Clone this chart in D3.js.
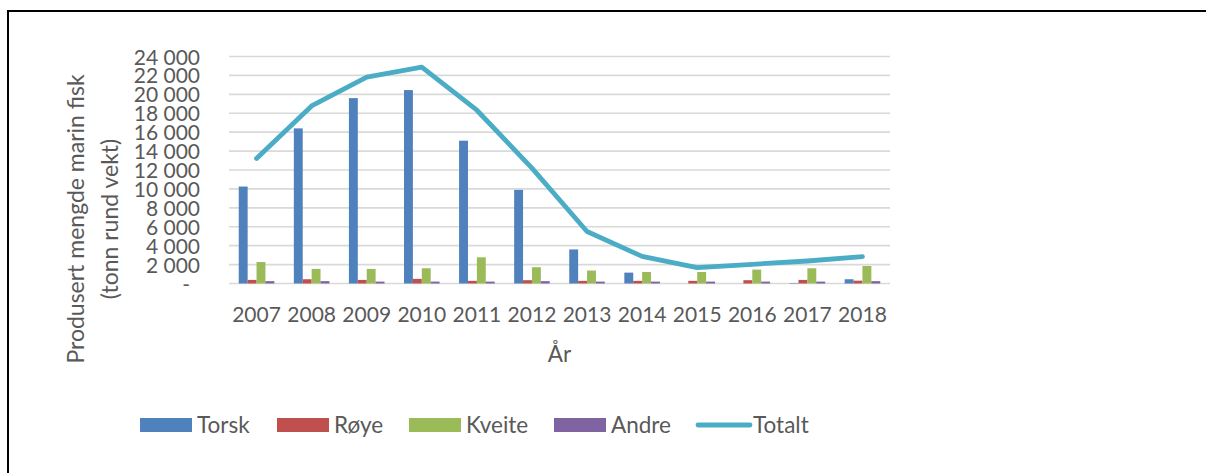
<!DOCTYPE html>
<html>
<head>
<meta charset="utf-8">
<script src="https://cdn.jsdelivr.net/npm/d3@7"></script>
<style>
  body { margin: 0; background: #fff; }
  svg text { font-family: Lato, "Open Sans", sans-serif; fill: #595959; }
</style>
</head>
<body>
<svg id="graph" width="1206" height="473"></svg>
<script>
    var w = 1206;
    var h = 473;

    // data (tonn)
    var years = ["2007","2008","2009","2010","2011","2012","2013","2014","2015","2016","2017","2018"];
    var torsk  = [10250, 16400, 19600, 20450, 15100, 9900, 3600, 1150, 0, 0, 50, 450];
    var roye   = [380, 450, 380, 490, 280, 350, 280, 280, 280, 350, 380, 300];
    var kveite = [2270, 1540, 1540, 1610, 2770, 1720, 1370, 1220, 1220, 1470, 1610, 1850];
    var andre  = [250, 250, 200, 200, 200, 250, 200, 200, 200, 200, 200, 250];
    var totalt = [13220, 18770, 21820, 22870, 18320, 12200, 5500, 2870, 1680, 2030, 2380, 2840];
    var yTicks = [0, 2000, 4000, 6000, 8000, 10000, 12000, 14000, 16000, 18000, 20000, 22000, 24000];

    var seriesNames = ["Torsk", "Røye", "Kveite", "Andre"];
    var seriesValues = [torsk, roye, kveite, andre];
    var colorKey = {"Torsk": "#4F81BD",
                    "Røye": "#C0504D",
                    "Kveite": "#9BBB59",
                    "Andre": "#8064A2",
                    "Totalt": "#4BACC6"};

    var plot = {left: 229, right: 890, top: 56.5, bottom: 283.5};

    var svg = d3.select("#graph");

    // frame of the original figure
    svg.append("rect")
        .attr("x", 8).attr("y", 11)
        .attr("width", w + 20).attr("height", h + 20)
        .style("fill", "none")
        .style("stroke", "#000")
        .style("stroke-width", 2);

    var x0 = d3.scaleBand().domain(years).range([plot.left, plot.right]);
    var x1 = d3.scaleBand().domain(seriesNames).range([0, x0.bandwidth()]).paddingOuter(1.095);
    var y = d3.scaleLinear().domain([0, 24000]).range([plot.bottom, plot.top]);

    // gridlines
    svg.append("g").selectAll("line")
        .data(yTicks)
        .enter()
        .append("line")
        .attr("x1", plot.left).attr("x2", plot.right)
        .attr("y1", function(d){ return y(d); })
        .attr("y2", function(d){ return y(d); })
        .style("stroke", "#D9D9D9")
        .style("stroke-width", 1.6);

    // y axis labels
    var yAxis = d3.axisLeft(y)
        .tickValues(yTicks)
        .tickSize(0)
        .tickPadding(0)
        .tickFormat(function(d){
            if (d == 0) return "-";
            return d3.format(",")(d).replace(/,/g, " ");
        });
    var gy = svg.append("g")
        .attr("transform", "translate(200,0)")
        .call(yAxis);
    gy.select(".domain").remove();
    gy.selectAll("text")
        .style("font-size", "21px")
        .style("fill", "#595959")
        .style("font-family", "Lato, 'Open Sans', sans-serif")
        .attr("dy", "0.36em")
        .attr("dx", function(d){ return d == 0 ? -10 : 0; });

    // x axis labels
    var xAxis = d3.axisBottom(x0).tickSize(0).tickPadding(0);
    var gx = svg.append("g")
        .attr("transform", "translate(0,307)")
        .call(xAxis);
    gx.select(".domain").remove();
    gx.selectAll("text")
        .style("font-size", "21px")
        .style("fill", "#595959")
        .style("font-family", "Lato, 'Open Sans', sans-serif")
        .attr("dy", "0.72em");

    // bars
    seriesNames.forEach(function(name, si){
        svg.append("g").selectAll("rect")
            .data(seriesValues[si])
            .enter()
            .append("rect")
            .attr("x", function(d, i){ return x0(years[i]) + x1(name); })
            .attr("width", x1.bandwidth())
            .attr("y", function(d){ return y(d); })
            .attr("height", function(d){ return plot.bottom - y(d); })
            .style("fill", colorKey[name]);
    });

    // total line
    var line = d3.line()
        .x(function(d, i){ return x0(years[i]) + x0.bandwidth()/2; })
        .y(function(d){ return y(d); });
    svg.append("path")
        .datum(totalt)
        .attr("d", line)
        .style("fill", "none")
        .style("stroke", colorKey["Totalt"])
        .style("stroke-width", 4.8)
        .style("stroke-linecap", "round")
        .style("stroke-linejoin", "round");

    // axis titles
    svg.append("text")
        .attr("transform", "translate(76,219) rotate(-90)")
        .attr("text-anchor", "middle")
        .attr("dy", "0.36em")
        .style("font-size", "23px")
        .text("Produsert mengde marin fisk");
    svg.append("text")
        .attr("transform", "translate(110,219) rotate(-90)")
        .attr("text-anchor", "middle")
        .attr("dy", "0.36em")
        .style("font-size", "23px")
        .text("(tonn rund vekt)");
    svg.append("text")
        .attr("x", (plot.left + plot.right)/2)
        .attr("y", 361.5)
        .attr("text-anchor", "middle")
        .style("font-size", "22.5px")
        .text("År");

    // legend
    var legendX = [140, 277, 409, 554, 696];
    var legendNames = ["Torsk", "Røye", "Kveite", "Andre", "Totalt"];
    var lg = svg.append("g");
    legendNames.forEach(function(name, i){
        if (name == "Totalt") {
            lg.append("line")
                .attr("x1", legendX[i] + 2).attr("x2", legendX[i] + 54)
                .attr("y1", 425).attr("y2", 425)
                .style("stroke", colorKey[name])
                .style("stroke-width", 4.8)
                .style("stroke-linecap", "round");
        } else {
            lg.append("rect")
                .attr("x", legendX[i]).attr("y", 418)
                .attr("width", 52).attr("height", 14)
                .style("fill", colorKey[name]);
        }
        lg.append("text")
            .attr("x", legendX[i] + 57)
            .attr("y", 425)
            .attr("dy", "0.36em")
            .style("font-size", "22.5px")
            .text(name);
    });
</script>
</body>
</html>
